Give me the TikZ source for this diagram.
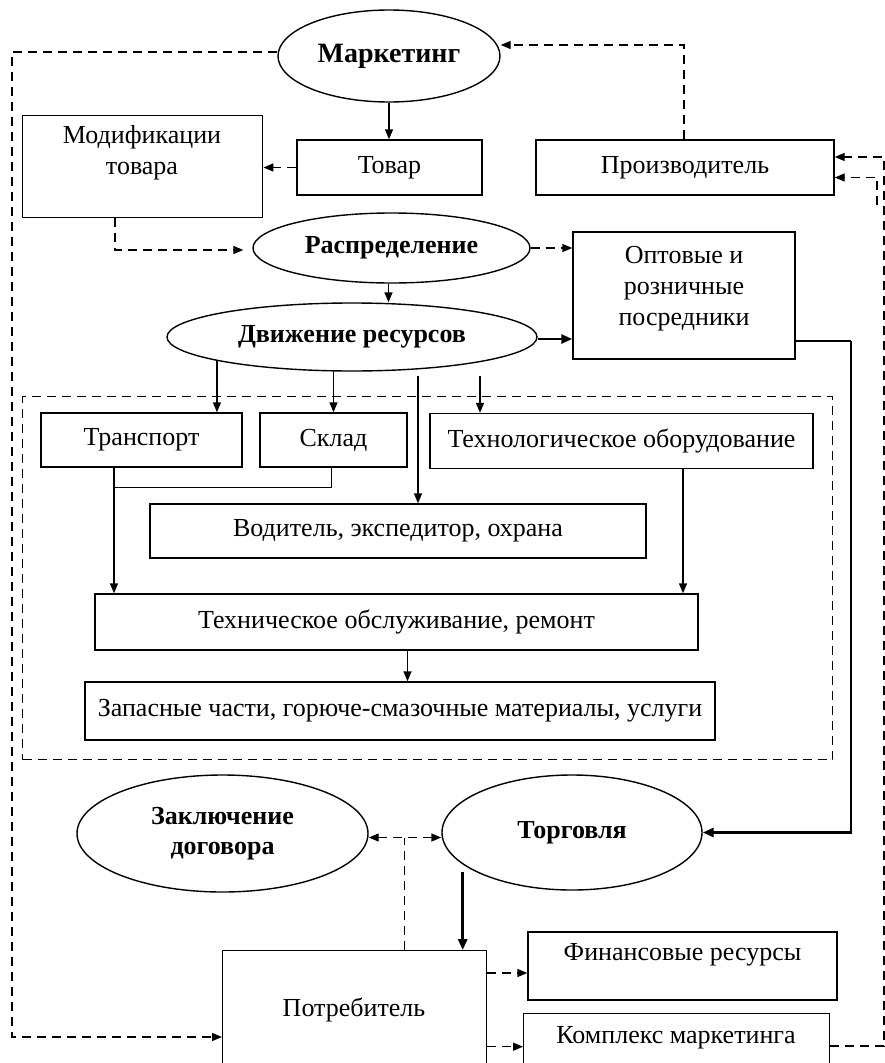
\documentclass[tikz,border=0pt]{standalone}
\usepackage{fontspec}
\setmainfont{Liberation Serif}
\usetikzlibrary{shapes.geometric,arrows.meta,calc}
\begin{document}
\begin{tikzpicture}[x=1pt,y=-1pt,
  every node/.style={font=\fontsize{26}{31}\selectfont},
  box/.style={draw, line width=1.4pt, rectangle, inner sep=0pt, align=center},
  oval/.style={draw, line width=1.4pt, ellipse, inner sep=0pt, align=center, font=\fontsize{26}{30}\selectfont\bfseries},
  txt/.style={align=center, inner sep=0pt},
  thin/.style={line width=1.4pt},
  arr/.style={line width=1.4pt, -{Triangle[length=10pt,width=8pt]}},
  darr/.style={line width=1.4pt, dash pattern=on 9pt off 6pt, -{Triangle[length=10pt,width=8pt]}},
  dline/.style={line width=1.4pt, dash pattern=on 9pt off 6pt},
  dbarr/.style={line width=1.4pt, dash pattern=on 9pt off 6pt, {Triangle[length=10pt,width=8pt]}-{Triangle[length=10pt,width=8pt]}},
  tarr/.style={line width=2.8pt, -{Triangle[length=11pt,width=9pt]}},
  tline/.style={line width=2.8pt}
]
\useasboundingbox (0,0) rectangle (885,1063);
\clip (0,0) rectangle (885,1063);

% nodes
\node[oval, minimum width=222pt, minimum height=92pt, font=\fontsize{28}{32}\selectfont\bfseries] (mark) at (389,56) {Маркетинг};
\node[box, minimum width=185pt, minimum height=55pt] (tovar) at (389.5,167.5) {Товар};
\node[box, minimum width=240pt, minimum height=102pt, anchor=north west] (modif) at (22,115) {};
\node[txt] (modifT) at (142,153) {Модификации\\товара};
\node[box, minimum width=298pt, minimum height=55pt] (proizv) at (685,167.5) {Производитель};
\node[oval, minimum width=277pt, minimum height=70pt] (raspr) at (391.5,248) {Распределение};
\node[box, minimum width=222pt, minimum height=127pt] (opt) at (684,295.5) {};
\node[txt] (optT) at (684,289) {Оптовые и\\розничные\\посредники};
\node[oval, minimum width=370pt, minimum height=68pt] (dvizh) at (352,337) {Движение ресурсов};

\node[draw, dline, minimum width=810pt, minimum height=363pt, anchor=north west] (frame) at (22,396) {};

\node[box, minimum width=201pt, minimum height=54pt] (transp) at (141.5,440) {Транспорт};
\node[box, minimum width=147pt, minimum height=54pt] (sklad) at (333.5,440) {Склад};
\node[box, minimum width=383pt, minimum height=55pt] (tech) at (621.5,441) {Технологическое оборудование};
\node[box, minimum width=496pt, minimum height=54pt] (vodit) at (398,531) {Водитель, экспедитор, охрана};
\node[box, minimum width=603pt, minimum height=56pt] (tehobs) at (396.5,622) {Техническое обслуживание, ремонт};
\node[box, minimum width=630pt, minimum height=58pt] (zapas) at (400,711) {Запасные части, горюче-смазочные материалы, услуги};

\node[oval, minimum width=291pt, minimum height=117pt] (zakl) at (222.5,833.5) {Заключение\\договора};
\node[oval, minimum width=260pt, minimum height=115pt] (torg) at (572,832.5) {Торговля};
\node[box, minimum width=264pt, minimum height=150pt, anchor=north west] (potr) at (222,950) {};
\node[txt] (potrT) at (354,1010) {Потребитель};
\node[box, minimum width=309pt, minimum height=68pt] (fin) at (682.5,966) {};
\node[txt] (finT) at (682.5,955) {Финансовые ресурсы};
\node[box, minimum width=306pt, minimum height=87pt, anchor=north west] (kompl) at (523,1013) {};
\node[txt] (komplT) at (676,1038) {Комплекс маркетинга};

% coordinates
\coordinate (lt) at (12,52);
\coordinate (lb) at (12,1037);
\coordinate (pm) at (684,45);
\coordinate (rr) at (884,1046);
\coordinate (rt) at (884,157);
\coordinate (r2) at (877,205);
\coordinate (oc) at (851,341);

% connectors
\draw[arr] (mark.south) -- (mark.south |- tovar.north);
\draw[darr] ([yshift=4pt]mark.west) -- (lt) -- (lb) -- (lb -| potr.west);
\draw[darr] (tovar.west) -- (tovar.west -| modif.east);
\draw[darr] ([xshift=93pt]modif.south west) |- ([xshift=-9pt,yshift=-2pt]raspr.west);
\draw[darr] (proizv.north -| pm) -- (pm) -- ([yshift=11pt]mark.east);
\draw[darr] (kompl.east |- rr) -- (rr) -- (rt) -- (rt -| proizv.east);
\draw[darr] (r2) |- ([yshift=-10pt]proizv.east);
\draw[darr] (raspr.east) -- (raspr.east -| opt.west);
\draw[arr] ([xshift=-3pt]raspr.south) -- ([xshift=-3pt]raspr.south |- dvizh.north);
\draw[tarr] ([yshift=-2pt]dvizh.east) -- ([yshift=-2pt]dvizh.east -| opt.west);
\draw[tline] (opt.east |- oc) -- (oc);
\draw[tarr] (oc) |- (torg.east);

\draw[arr] (dvizh.190.8) -- (dvizh.190.8 |- transp.north);
\draw[arr] (dvizh.south -| sklad.north) -- (sklad.north);
\draw[arr] ([xshift=66pt,yshift=-4pt]dvizh.south) -- ([xshift=66pt]dvizh.south |- vodit.north);
\draw[arr] ([xshift=128pt,yshift=-4pt]dvizh.south) -- ([xshift=128pt]dvizh.south |- tech.north);

\draw[arr] ([xshift=-27.5pt]transp.south) -- ([xshift=-27.5pt]transp.south |- tehobs.north);
\draw[thin] ([xshift=-2pt]sklad.south) |- ([xshift=-27.5pt,yshift=-20pt]transp.south);
\draw[arr] ([xshift=61.5pt]tech.south) -- ([xshift=61.5pt]tech.south |- tehobs.north);
\draw[arr] ([xshift=11pt]tehobs.south) -- ([xshift=11pt]tehobs.south |- zapas.north);

\draw[dbarr] ([yshift=-4pt]zakl.east) -- ([yshift=-4pt]zakl.east -| torg.west);
\draw[dline] ([xshift=50pt]potr.north) -- ([xshift=50pt,yshift=-4pt]potr.north |- zakl.east);
\draw[tarr] ([xshift=108pt,yshift=78pt]potr.north) -- ([xshift=108pt]potr.north);
\draw[darr] ([yshift=-7pt]fin.west -| potr.east) -- ([yshift=-7pt]fin.west);
\draw[darr] ([yshift=10.5pt]kompl.west -| potr.east) -- ([yshift=10.5pt]kompl.west);
\end{tikzpicture}
\end{document}
